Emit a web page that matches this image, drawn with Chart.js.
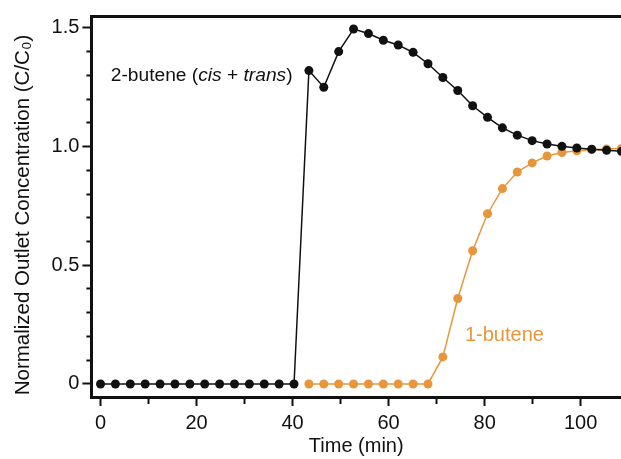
<!DOCTYPE html>
<html>
<head>
<meta charset="utf-8">
<script src="https://cdn.jsdelivr.net/npm/chart.js@4"></script>
<style>
  body { margin: 0; background: #fff; }
  #wrap { width: 621px; height: 459px; }
</style>
</head>
<body>
<div id="wrap"><canvas id="chart" width="621" height="459"></canvas></div>
<script>
// sampling times (min)
var times = [0, 3.1, 6.2, 9.3, 12.4, 15.5, 18.6, 21.7, 24.8, 27.9, 31.0, 34.1,
             37.2, 40.3, 43.4, 46.5, 49.6, 52.7, 55.8, 58.9, 62.0, 65.1, 68.2, 71.3,
             74.4, 77.5, 80.6, 83.7, 86.8, 89.9, 93.0, 96.1, 99.2, 102.3, 105.4, 108.5];

// 2-butene (cis + trans), C/C0
var butene2 = [0, 0, 0, 0, 0, 0, 0, 0, 0, 0, 0, 0,
               0, 0, 1.32, 1.25, 1.40, 1.495, 1.476, 1.448, 1.428, 1.397, 1.349, 1.291,
               1.236, 1.172, 1.123, 1.079, 1.048, 1.025, 1.011, 1.001, 0.994, 0.989, 0.984, 0.98];

// 1-butene, C/C0 (first sample at 43.4 min)
var butene1 = [null, null, null, null, null, null, null, null, null, null, null, null,
               null, null, 0, 0, 0, 0, 0, 0, 0, 0, 0, 0.114,
               0.360, 0.561, 0.717, 0.823, 0.893, 0.931, 0.960, 0.975, 0.982, 0.987, 0.990, 0.992];

var yLabels = [0, 0.5, 1.0, 1.5];
var xLabels = [0, 20, 40, 60, 80, 100];

var black = "#111111";
var orange = "#e8963c";
var font = "'Liberation Sans', Arial, 'DejaVu Sans', sans-serif";

function pts(vals) {
  var out = [];
  for (var i = 0; i < times.length; i++) {
    if (vals[i] !== null) out.push({x: times[i], y: vals[i]});
  }
  return out;
}

function isLabel(list, v) {
  for (var i = 0; i < list.length; i++) {
    if (Math.abs(list[i] - v) < 1e-6) return true;
  }
  return false;
}

// curve labels drawn as text next to the lines
var curveLabels = {
  id: "curveLabels",
  afterDatasetsDraw: function(chart) {
    var ctx = chart.ctx;
    var x = chart.scales.x, y = chart.scales.y;
    ctx.save();
    ctx.textBaseline = "alphabetic";
    ctx.textAlign = "left";
    var parts = [["2-butene (", ""], ["cis", "italic "], [" + ", ""], ["trans", "italic "], [")", ""]];
    var size = 19.2;
    var w = 0;
    parts.forEach(function(p) { ctx.font = p[1] + size + "px " + font; w += ctx.measureText(p[0]).width; });
    var px = x.getPixelForValue(40.0) - w;
    var py = y.getPixelForValue(1.275);
    ctx.fillStyle = black;
    parts.forEach(function(p) {
      ctx.font = p[1] + size + "px " + font;
      ctx.fillText(p[0], px, py);
      px += ctx.measureText(p[0]).width;
    });
    ctx.font = "20px " + font;
    ctx.fillStyle = orange;
    ctx.fillText("1-butene", x.getPixelForValue(75.9), y.getPixelForValue(0.18));
    ctx.restore();
  }
};

new Chart(document.getElementById("chart"), {
  type: "line",
  data: {
    datasets: [{
      label: "2-butene (cis + trans)",
      data: pts(butene2),
      borderColor: black,
      backgroundColor: black,
      borderWidth: 1.5,
      pointRadius: 4.5,
      pointBorderWidth: 0,
      tension: 0
    }, {
      label: "1-butene",
      data: pts(butene1),
      borderColor: orange,
      backgroundColor: orange,
      borderWidth: 1.5,
      pointRadius: 4.5,
      pointBorderWidth: 0,
      tension: 0
    }]
  },
  options: {
    responsive: false,
    animation: false,
    devicePixelRatio: 1,
    layout: { autoPadding: false, padding: { left: 11, top: 16, right: 0, bottom: 3 } },
    plugins: { legend: { display: false }, tooltip: { enabled: false } },
    scales: {
      x: {
        type: "linear",
        position: "bottom",
        min: -1.9,
        max: 108.4,
        border: { display: true, color: black, width: 3 },
        grid: {
          drawOnChartArea: false,
          tickLength: 9,
          tickColor: black,
          tickWidth: 2,
          tickBorderDash: function(c) { return isLabel(xLabels, c.tick.value) ? [] : [5, 100]; }
        },
        ticks: {
          stepSize: 10,
          includeBounds: false,
          autoSkip: false,
          maxRotation: 0,
          color: black,
          padding: 7,
          font: { family: font, size: 20, lineHeight: 1 },
          callback: function(v) { return isLabel(xLabels, v) ? String(v) : ""; }
        },
        title: {
          display: true,
          text: "Time (min)",
          color: black,
          font: { family: font, size: 20, lineHeight: 1 },
          padding: { top: -4, bottom: 0 }
        }
      },
      top: {
        type: "linear",
        position: "top",
        min: -1.9,
        max: 108.4,
        border: { display: true, color: black, width: 3 },
        grid: { drawOnChartArea: false, drawTicks: false },
        ticks: { display: false }
      },
      y: {
        type: "linear",
        min: -0.055,
        max: 1.55,
        border: { display: true, color: black, width: 3 },
        grid: {
          drawOnChartArea: false,
          tickLength: 9,
          tickColor: black,
          tickWidth: 2,
          tickBorderDash: function(c) { return isLabel(yLabels, c.tick.value) ? [] : [0, 4, 100]; }
        },
        ticks: {
          stepSize: 0.1,
          includeBounds: false,
          autoSkip: false,
          color: black,
          padding: 3,
          font: { family: font, size: 20 },
          callback: function(v) {
            if (!isLabel(yLabels, v)) return "";
            return Math.abs(v) < 1e-6 ? "0" : v.toFixed(1);
          }
        },
        title: {
          display: true,
          text: "Normalized Outlet Concentration (C/C\u2080)   ",
          color: black,
          font: { family: font, size: 20.5 },
          padding: { top: 0, bottom: 13 }
        }
      }
    }
  },
  plugins: [curveLabels]
});
</script>
</body>
</html>
